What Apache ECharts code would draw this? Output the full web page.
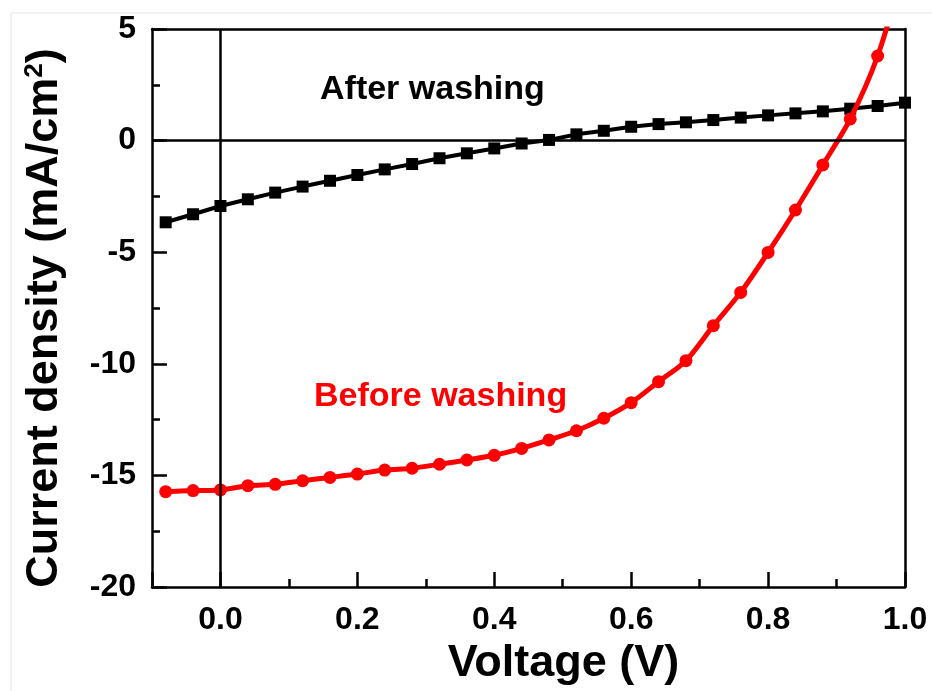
<!DOCTYPE html>
<html>
<head>
<meta charset="utf-8">
<script src="https://cdn.jsdelivr.net/npm/echarts@6/dist/echarts.min.js"></script>
<style>
  html, body {margin: 0; padding: 0; background: #fff;}
  #chart {width: 932px; height: 691px;}
</style>
</head>
<body>
<div id="chart"></div>
<script>
// voltage steps (V), both sweeps share them
const voltage = [-0.08, -0.04, 0, 0.04, 0.08, 0.12, 0.16, 0.2, 0.24, 0.28, 0.32, 0.36, 0.4, 0.44,
  0.48, 0.52, 0.56, 0.6, 0.64, 0.68, 0.72, 0.76, 0.8, 0.84, 0.88, 0.92, 0.96, 1.0]

// current density (mA/cm2)
const afterWashing = [-3.66, -3.30, -2.93, -2.63, -2.33, -2.06, -1.80, -1.54, -1.29, -1.05, -0.79, -0.57,
  -0.35, -0.13, 0.03, 0.28, 0.44, 0.62, 0.74, 0.82, 0.92, 1.03, 1.13, 1.22, 1.31, 1.43, 1.55, 1.70]
const beforeWashing = [-15.73, -15.68, -15.65, -15.46, -15.40, -15.24, -15.09, -14.94, -14.76, -14.68,
  -14.50, -14.31, -14.10, -13.79, -13.41, -13.00, -12.44, -11.74, -10.80, -9.86, -8.29, -6.80, -5.01,
  -3.11, -1.09, 0.97, 3.79, 7.9]

const xLabels = ['0.0', '0.2', '0.4', '0.6', '0.8', '1.0']
const yLabels = ['-20', '-15', '-10', '-5', '0', '5']

const pair = (ys) => voltage.map((v, i) => [v, ys[i]])

const font = '"Liberation Sans", Arial, sans-serif'
const frame = {show: true, onZero: false, lineStyle: {color: '#000', width: 2.5}}
const myChart = echarts.init(document.getElementById('chart'))

myChart.setOption({
  backgroundColor: '#fff',
  animation: false,
  grid: {left: 152, top: 29, right: 27, bottom: 104},
  xAxis: [
    {
      type: 'value', min: -0.1, max: 1.0, position: 'bottom',
      name: 'Voltage (V)', nameLocation: 'middle', nameGap: 49,
      nameTextStyle: {fontFamily: font, fontWeight: 'bold', fontSize: 45, color: '#000', padding: [0, 0, 0, 70]},
      axisLine: frame,
      axisTick: {show: true, inside: true, length: 15, lineStyle: {color: '#000', width: 2.5}},
      axisLabel: {
        margin: 17, fontFamily: font, fontWeight: 'bold', fontSize: 32, color: '#000',
        formatter: (val) => {
          const s = val.toFixed(1)
          return xLabels.includes(s) ? s : ''
        }
      },
      splitLine: {show: false}
    },
    {
      // minor ticks every 0.1
      type: 'value', min: -0.1, max: 1.0, interval: 0.1, position: 'bottom',
      axisLine: {show: false, onZero: false},
      axisTick: {show: true, inside: true, length: 8, lineStyle: {color: '#000', width: 2.5}},
      axisLabel: {show: false},
      splitLine: {show: false}
    },
    {
      type: 'value', min: -0.1, max: 1.0, position: 'top',
      axisLine: frame,
      axisTick: {show: false}, axisLabel: {show: false}, splitLine: {show: false}
    }
  ],
  yAxis: [
    {
      type: 'value', min: -20, max: 5, interval: 5, position: 'left',
      name: 'Current density (mA/cm{sup|2})', nameLocation: 'middle', nameGap: 84, nameRotate: 90,
      nameTextStyle: {
        fontFamily: font, fontWeight: 'bold', fontSize: 45, color: '#000', padding: [0, 20, 0, 0],
        rich: {sup: {fontFamily: font, fontWeight: 'bold', fontSize: 26, color: '#000', verticalAlign: 'top', padding: [0, 0, 20, 0]}}
      },
      axisLine: frame,
      axisTick: {show: true, inside: true, length: 15, lineStyle: {color: '#000', width: 2.5}},
      minorTick: {show: true, splitNumber: 2, length: 8, lineStyle: {color: '#000', width: 2.5}},
      axisLabel: {
        margin: 16, fontFamily: font, fontWeight: 'bold', fontSize: 32, color: '#000',
        formatter: (val) => yLabels.includes(String(val)) ? String(val) : ''
      },
      splitLine: {show: false}
    },
    {
      type: 'value', min: -20, max: 5, position: 'right',
      axisLine: frame,
      axisTick: {show: false}, axisLabel: {show: false}, splitLine: {show: false}
    }
  ],
  graphic: [
    {type: 'line', shape: {x1: 11, y1: 13, x2: 932, y2: 13}, style: {stroke: '#e4e4e4', lineWidth: 1}},
    {type: 'line', shape: {x1: 11, y1: 13, x2: 11, y2: 691}, style: {stroke: '#e4e4e4', lineWidth: 1}},
    {
      type: 'text', left: 320, top: 73,
      style: {text: 'After washing', fill: '#000', font: 'bold 34px ' + font}
    },
    {
      type: 'text', left: 314, top: 380,
      style: {text: 'Before washing', fill: '#ff0000', font: 'bold 34px ' + font}
    }
  ],
  series: [
    {
      type: 'line', name: 'After washing',
      data: pair(afterWashing),
      symbol: 'rect', symbolSize: 12,
      itemStyle: {color: '#000'},
      lineStyle: {color: '#000', width: 4},
      z: 3,
      markLine: {
        silent: true, symbol: 'none', label: {show: false},
        lineStyle: {color: '#000', width: 2.5, type: 'solid'},
        data: [{xAxis: 0}, {yAxis: 0}]
      }
    },
    {
      type: 'line', name: 'Before washing',
      data: pair(beforeWashing),
      smooth: 0.3, clip: true,
      symbol: 'circle', symbolSize: 13,
      itemStyle: {color: '#ff0000'},
      lineStyle: {color: '#ff0000', width: 5},
      z: 4
    }
  ]
})
</script>
</body>
</html>
